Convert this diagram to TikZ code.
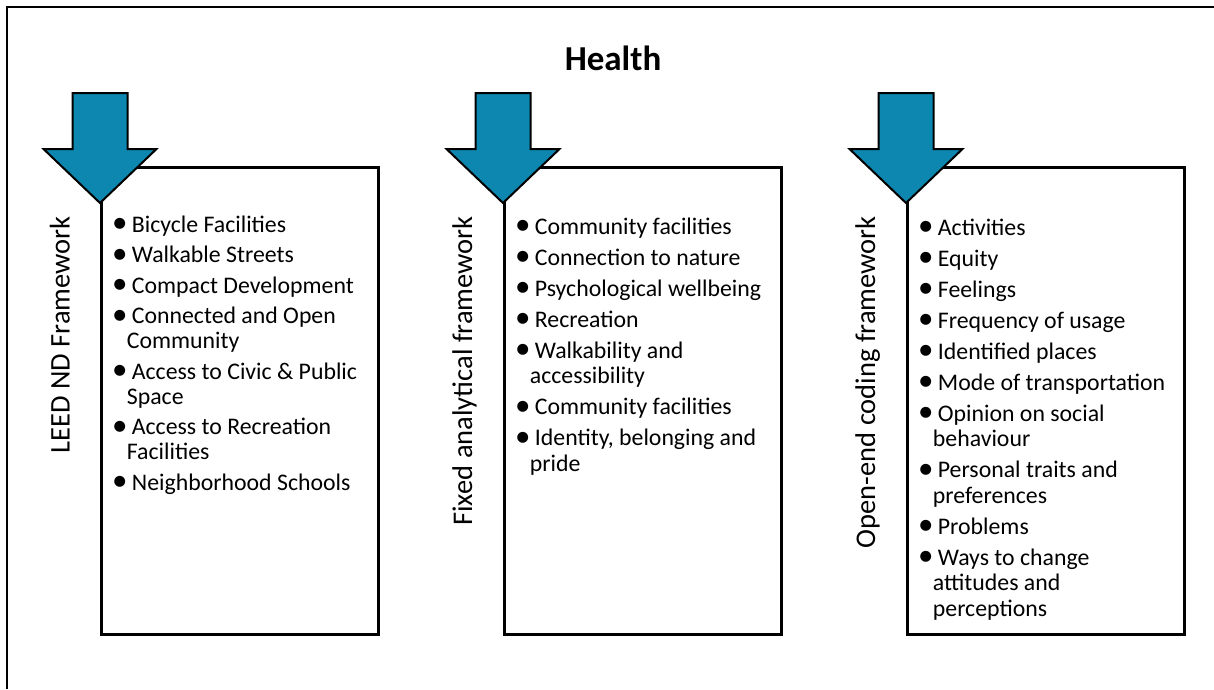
\documentclass[tikz,border=0pt]{standalone}
\usepackage{fontspec}
\usepackage{graphicx}
\setmainfont{Carlito}
\definecolor{arrowteal}{RGB}{13,135,175}
\newcommand\bitem[1]{\par\noindent\hangindent=11.7pt\hangafter=1\makebox[16.7pt][l]{\hspace{-3pt}\raisebox{-0.5pt}{\scalebox{1.3}{•}}}#1}
\newcommand\blist[3]{\parbox[t]{320pt}{\fontsize{23.8}{#1}\selectfont\setlength{\parskip}{#2}\raggedright\let\\\newline #3}}
\tikzset{
  framebox/.style={draw=black, line width=2.5pt, fill=white, rectangle, minimum width=277pt, minimum height=467pt, inner sep=0pt, anchor=north west},
  downarrow/.style={draw=black, line width=2pt, fill=arrowteal, line join=miter},
  sidelabel/.style={rotate=90, anchor=base east, inner sep=0pt, font=\fontsize{28.5}{34}\selectfont},
  listtext/.style={anchor=base west, inner sep=0pt, align=left},
  titletext/.style={anchor=base, inner sep=0pt, font=\fontsize{35}{42}\selectfont\bfseries}
}
\begin{document}
\begin{tikzpicture}[x=1pt,y=-1pt]
\useasboundingbox (0,0) rectangle (1214,689);
% outer frame (cropped)
\draw[line width=2.5pt] (7,689) -- (7,7) -- (1214,7);
% title
\node[titletext] (title) at (613,70) {Health};
% boxes
\node[framebox] (box1) at (100,166) {};
\node[framebox] (box2) at (503,166) {};
\node[framebox] (box3) at (906,166) {};
% arrows (tip on each box's left edge)
\foreach \bx in {box1,box2,box3}{
  \path (\bx.north west) ++(0,37) coordinate (\bx-tip);
  \draw[downarrow] (\bx-tip) ++(-27.5,-110) -- ++(55,0) -- ++(0,56) -- ++(29,0) -- (\bx-tip) -- ++(-56.5,-54) -- ++(29,0) -- cycle;
}
% side labels
\node[sidelabel] (lab1) at (69.5,216) {LEED ND Framework};
\node[sidelabel] (lab2) at (472,216) {Fixed analytical framework};
\node[sidelabel] (lab3) at (875,216) {Open-end coding framework};
% lists
\node[listtext] (list1) at (115,232) {\blist{25pt}{5.5pt}{%
\bitem{Bicycle Facilities}
\bitem{Walkable Streets}
\bitem{Compact Development}
\bitem{Connected and Open\\Community}
\bitem{Access to Civic \& Public\\Space}
\bitem{Access to Recreation\\Facilities}
\bitem{Neighborhood Schools}}};
\node[listtext] (list2) at (518,234) {\blist{25.5pt}{5.5pt}{%
\bitem{Community facilities}
\bitem{Connection to nature}
\bitem{Psychological wellbeing}
\bitem{Recreation}
\bitem{Walkability and\\accessibility}
\bitem{Community facilities}
\bitem{Identity, belonging and\\pride}}};
\node[listtext] (list3) at (921,235) {\blist{25.5pt}{5.5pt}{%
\bitem{Activities}
\bitem{Equity}
\bitem{Feelings}
\bitem{Frequency of usage}
\bitem{Identified places}
\bitem{Mode of transportation}
\bitem{Opinion on social\\behaviour}
\bitem{Personal traits and\\preferences}
\bitem{Problems}
\bitem{Ways to change\\attitudes and\\perceptions}}};
\end{tikzpicture}
\end{document}
